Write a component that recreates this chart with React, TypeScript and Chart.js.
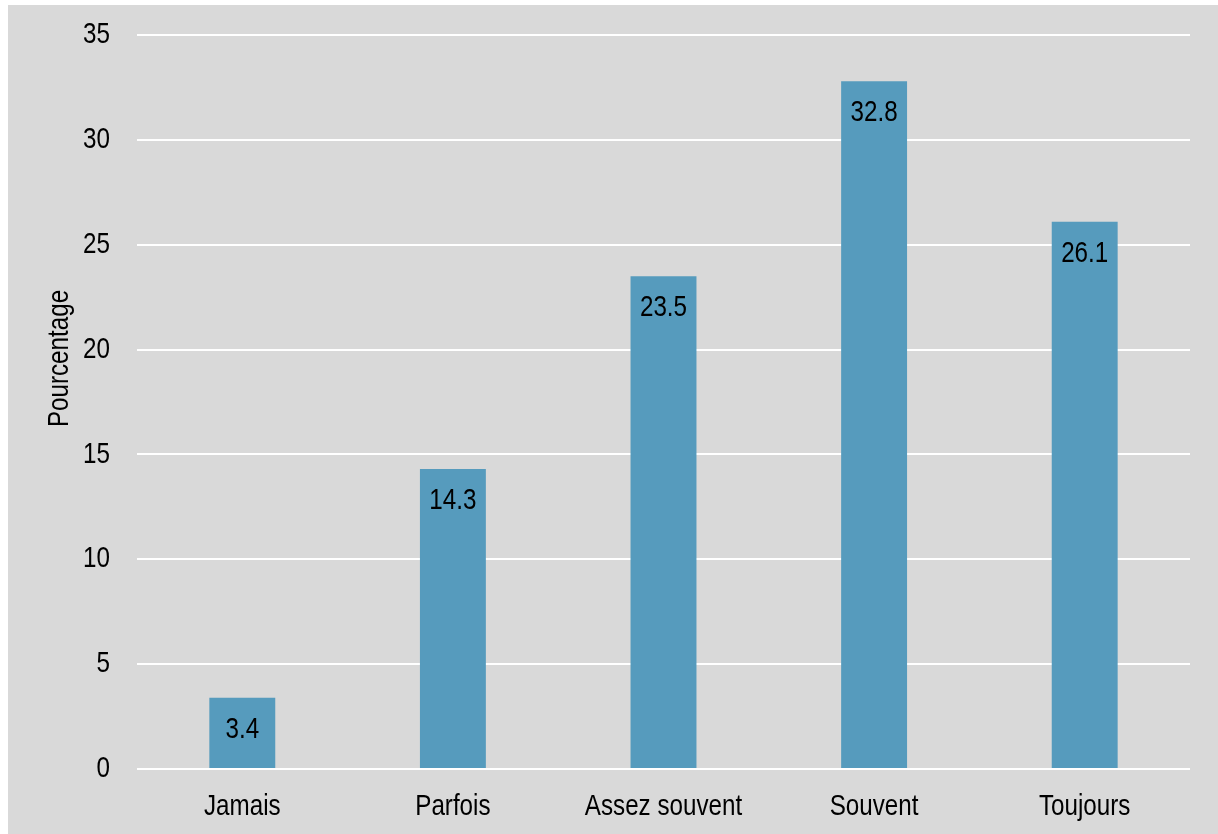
import React, { useEffect, useRef } from "react";
import { Chart, registerables } from "chart.js";

Chart.register(...registerables);

const categories: string[] = ["Jamais", "Parfois", "Assez souvent", "Souvent", "Toujours"];
const percentages: number[] = [3.4, 14.3, 23.5, 32.8, 26.1];
const yTicks: number[] = [0, 5, 10, 15, 20, 25, 30, 35];
const yAxisTitle = "Pourcentage";

const FONT = '"Liberation Sans", Arial, sans-serif';
const FONT_SIZE = 29.5;
const NARROW = 0.82;
const BG = "#d9d9d9";
const BAR = "#569bbd";

const W = 1210;
const H = 829;

function narrowText(
  ctx: CanvasRenderingContext2D,
  text: string,
  x: number,
  y: number,
  align: CanvasTextAlign,
  baseline: CanvasTextBaseline,
  rotate = 0
) {
  ctx.save();
  ctx.font = `${FONT_SIZE}px ${FONT}`;
  ctx.fillStyle = "#000";
  ctx.textAlign = align;
  ctx.textBaseline = baseline;
  ctx.translate(x, y);
  if (rotate) ctx.rotate(rotate);
  ctx.scale(NARROW, 1);
  ctx.fillText(text, 0, 0);
  ctx.restore();
}

export default function App() {
  const ref = useRef<HTMLCanvasElement | null>(null);

  useEffect(() => {
    if (!ref.current) return;

    const textPlugin = {
      id: "narrowTexts",
      afterDatasetsDraw(chart: any) {
        const ctx = chart.ctx;
        const meta = chart.getDatasetMeta(0);
        meta.data.forEach((bar: any, i: number) => {
          narrowText(ctx, percentages[i].toFixed(1), bar.x, bar.y + 40, "center", "alphabetic");
        });
      },
      afterDraw(chart: any) {
        const ctx = chart.ctx;
        const xs = chart.scales.x;
        const ys = chart.scales.y;
        ys.ticks.forEach((t: any) => {
          narrowText(ctx, String(t.value), chart.chartArea.left - 27, ys.getPixelForValue(t.value), "right", "middle");
        });
        categories.forEach((c, i) => {
          narrowText(ctx, c, xs.getPixelForValue(i), chart.chartArea.bottom + 46, "center", "alphabetic");
        });
        narrowText(ctx, yAxisTitle, 52, 353.5, "center", "middle", -Math.PI / 2);
      },
    };

    const chart = new Chart(ref.current, {
      type: "bar",
      data: {
        labels: categories,
        datasets: [
          {
            data: percentages,
            backgroundColor: BAR,
            borderWidth: 0,
            categoryPercentage: 1,
            barPercentage: 0.313,
          },
        ],
      },
      options: {
        responsive: false,
        animation: false,
        maintainAspectRatio: false,
        layout: { padding: { left: 0, right: 28, top: 30, bottom: 0 } },
        plugins: {
          legend: { display: false },
          tooltip: { enabled: false },
          title: { display: false },
        },
        scales: {
          x: {
            grid: { display: false, drawTicks: false },
            border: { display: false },
            ticks: { display: false },
            afterFit: (scale: any) => {
              scale.height = 65;
            },
          },
          y: {
            min: 0,
            max: 35,
            afterBuildTicks: (scale: any) => {
              scale.ticks = yTicks.map((v) => ({ value: v }));
            },
            grid: { color: "#ffffff", lineWidth: 2, drawTicks: false },
            border: { display: false },
            ticks: { display: false },
            afterFit: (scale: any) => {
              scale.width = 129;
            },
          },
        },
      },
      plugins: [textPlugin],
    });

    return () => chart.destroy();
  }, []);

  return (
    <div style={{ position: "absolute", left: 8, top: 5, width: W, height: H, background: BG }}>
      <canvas ref={ref} width={W} height={H} style={{ display: "block", width: W, height: H }} />
    </div>
  );
}
